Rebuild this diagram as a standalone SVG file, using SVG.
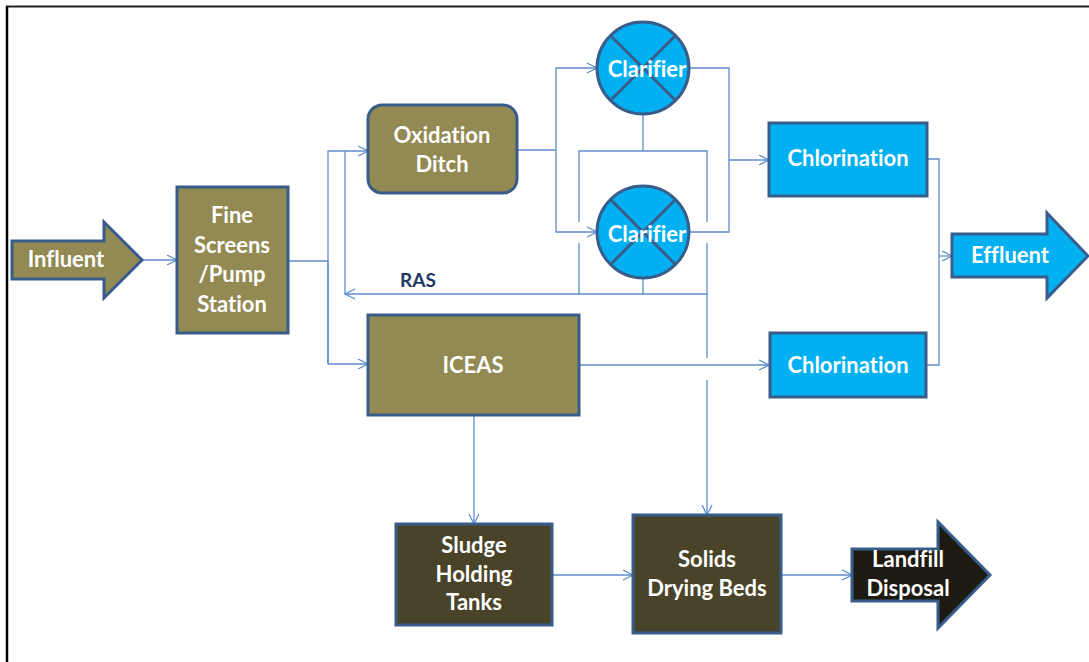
<svg xmlns="http://www.w3.org/2000/svg" width="1089" height="662" viewBox="0 0 1089 662">
<defs>
<marker id="arr" viewBox="0 0 12 12" refX="11" refY="6" markerWidth="12" markerHeight="12" markerUnits="userSpaceOnUse" orient="auto">
<path d="M1,1 L11,6 L1,11" fill="none" stroke="#5F8DCB" stroke-width="1.3"/>
</marker>
<style>
.olive{fill:#938953;stroke:#385D8A;stroke-width:3}
.cyan{fill:#00B0F0;stroke:#385D8A;stroke-width:3}
.dark{fill:#494429;stroke:#385D8A;stroke-width:3}
.black{fill:#1D1B11;stroke:#385D8A;stroke-width:3}
.t{font-family:Lato,"Liberation Sans",sans-serif;font-weight:bold;font-size:22px;fill:#FFFFFF;text-anchor:middle;font-variant-ligatures:none;font-feature-settings:"liga" 0,"clig" 0}
.c{fill:none;stroke:#5F8DCB;stroke-width:1.3}
.ca{fill:none;stroke:#5F8DCB;stroke-width:1.3;marker-end:url(#arr)}
.x{stroke:#385D8A;stroke-width:3}
</style>
</defs>
<rect width="1089" height="662" fill="#FFFFFF"/>
<g id="frame">
<line x1="6" y1="6.5" x2="1089" y2="6.5" stroke="#222" stroke-width="2"/>
<line x1="7" y1="6" x2="7" y2="662" stroke="#000" stroke-width="2.5"/>
</g>
<g id="connectors">
<line class="ca" x1="142" y1="260" x2="177" y2="260"/>
<polyline class="c" points="288,261 328,261"/>
<polyline class="ca" points="328,363 328,151 368,151"/>
<polyline class="ca" points="328,261 328,364 368,364"/>
<line class="c" x1="345" y1="151" x2="345" y2="294"/>
<polyline class="ca" points="707,294 345,294"/>
<polyline class="c" points="517,150 556,150"/>
<polyline class="ca" points="556,150 556,68 597,68"/>
<polyline class="ca" points="556,150 556,232 597,232"/>
<polyline class="c" points="688,68 729,68 729,232 688,232"/>
<polyline class="ca" points="729,160 769,160"/>
<line class="c" x1="643" y1="114" x2="643" y2="151"/>
<polyline class="c" points="579,222 579,151 707,151 707,222"/>
<line class="c" x1="579" y1="243" x2="579" y2="294"/>
<line class="c" x1="643" y1="279" x2="643" y2="294"/>
<line class="c" x1="707" y1="243" x2="707" y2="358"/>
<line class="ca" x1="707" y1="380" x2="707" y2="515"/>
<line class="ca" x1="579" y1="365" x2="769" y2="365"/>
<polyline class="c" points="927,159 939,159 939,365 927,365"/>
<line class="ca" x1="939" y1="256" x2="952" y2="256"/>
<line class="ca" x1="474" y1="415" x2="474" y2="524"/>
<line class="ca" x1="552" y1="575" x2="633" y2="575"/>
<line class="ca" x1="781" y1="575" x2="852" y2="575"/>
</g>
<g id="influent">
<polygon class="olive" points="12,241 104,241 104,222 142,260 104,298 104,279 12,279"/>
<text class="t" x="66" y="267">Influent</text>
</g>
<g id="fine-screens">
<rect class="olive" x="177" y="187" width="111" height="146"/>
<text class="t" x="232" y="223">Fine</text>
<text class="t" x="232" y="253">Screens</text>
<text class="t" x="232" y="282">/Pump</text>
<text class="t" x="232" y="312">Station</text>
</g>
<g id="oxidation-ditch">
<rect class="olive" x="368" y="105" width="149" height="88" rx="14"/>
<text class="t" x="442" y="143">Oxidation</text>
<text class="t" x="442" y="172">Ditch</text>
</g>
<g id="clarifier-1">
<circle class="cyan" cx="643" cy="68" r="46"/>
<line class="x" x1="610.5" y1="35.5" x2="675.5" y2="100.5"/>
<line class="x" x1="675.5" y1="35.5" x2="610.5" y2="100.5"/>
<text class="t" x="647" y="77">Clarifier</text>
</g>
<g id="clarifier-2">
<circle class="cyan" cx="643" cy="232" r="46"/>
<line class="x" x1="610.5" y1="199.5" x2="675.5" y2="264.5"/>
<line class="x" x1="675.5" y1="199.5" x2="610.5" y2="264.5"/>
<text class="t" x="647" y="242">Clarifier</text>
</g>
<g id="ras-label">
<text x="418" y="287" font-family="Lato,'Liberation Sans',sans-serif" font-weight="bold" font-size="19" fill="#1F3864" text-anchor="middle">RAS</text>
</g>
<g id="chlorination-1">
<rect class="cyan" x="769" y="123" width="158" height="73"/>
<text class="t" x="848" y="166">Chlorination</text>
</g>
<g id="iceas">
<rect class="olive" x="368" y="315" width="211" height="100"/>
<text class="t" x="473" y="373">ICEAS</text>
</g>
<g id="chlorination-2">
<rect class="cyan" x="770" y="333" width="156" height="64"/>
<text class="t" x="848" y="373">Chlorination</text>
</g>
<g id="effluent">
<polygon class="cyan" points="952,234 1047,234 1047,213 1088,256 1047,298 1047,277 952,277"/>
<text class="t" x="1010" y="263">Effluent</text>
</g>
<g id="sludge-holding">
<rect class="dark" x="396" y="524" width="156" height="101"/>
<text class="t" x="474" y="553">Sludge</text>
<text class="t" x="474" y="582">Holding</text>
<text class="t" x="474" y="610">Tanks</text>
</g>
<g id="solids-drying">
<rect class="dark" x="633" y="515" width="148" height="118"/>
<text class="t" x="707" y="567">Solids</text>
<text class="t" x="707" y="596">Drying Beds</text>
</g>
<g id="landfill">
<polygon class="black" points="852,549 938,549 938,522 990,575 938,628 938,601 852,601"/>
<text class="t" x="908" y="567">Landfill</text>
<text class="t" x="908" y="596">Disposal</text>
</g>
</svg>
